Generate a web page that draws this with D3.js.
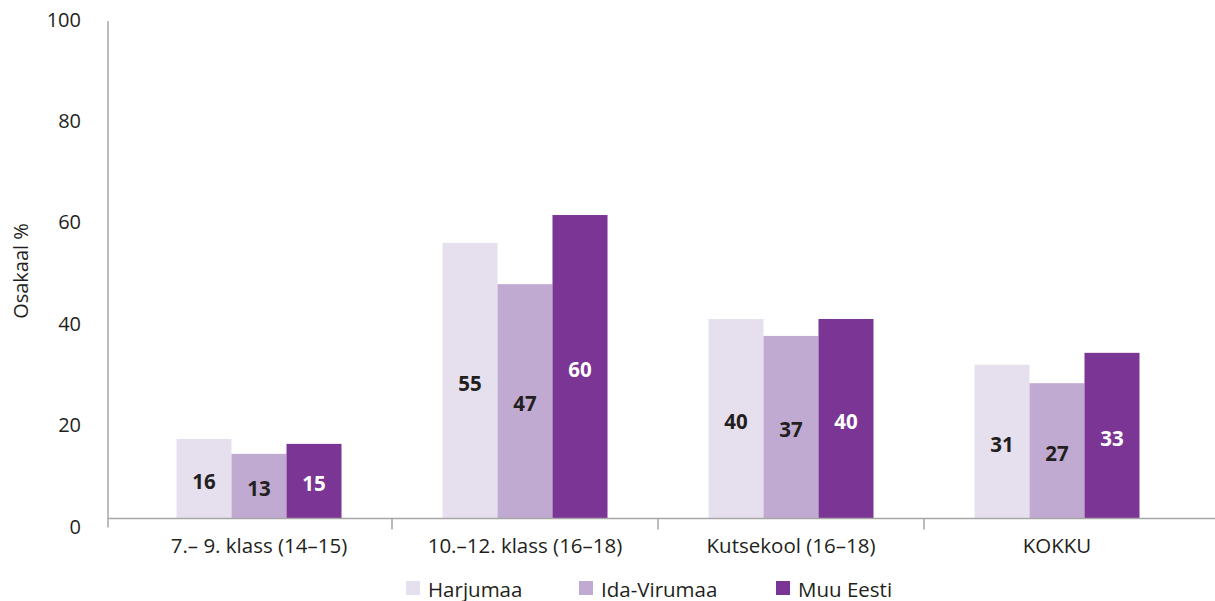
<!DOCTYPE html>
<html>
<head>
<meta charset="utf-8">
<script src="https://cdn.jsdelivr.net/npm/d3@7"></script>
<style>
  html, body { margin: 0; padding: 0; background: #ffffff; }
  svg { display: block; }
  text { font-family: "Open Sans", "Noto Sans", sans-serif; }
</style>
</head>
<body>
<svg id="chart" width="1215" height="601"></svg>
<script>
// ---- data ----
const categories = ["7.\u2013 9. klass (14\u201315)", "10.\u201312. klass (16\u201318)", "Kutsekool (16\u201318)", "KOKKU"];
const seriesNames = ["Harjumaa", "Ida-Virumaa", "Muu Eesti"];
const harjumaa   = [16.0, 55.4, 40.1, 30.9];
const idaVirumaa = [13.0, 47.1, 36.7, 27.2];
const muuEesti   = [15.0, 61.0, 40.1, 33.3];
const harjumaaLabels   = ["16", "55", "40", "31"];
const idaVirumaaLabels = ["13", "47", "37", "27"];
const muuEestiLabels   = ["15", "60", "40", "33"];
const yTicks = [0, 20, 40, 60, 80, 100];
const yTitle = "Osakaal %";

const seriesValues = [harjumaa, idaVirumaa, muuEesti];
const seriesLabels = [harjumaaLabels, idaVirumaaLabels, muuEestiLabels];
const colors = ["#e6dfee", "#c1aad1", "#7b3594"];
const labelColors = ["#231f20", "#231f20", "#ffffff"];

// ---- layout ----
const svg = d3.select("#chart");
const axisX = 108, baseY = 518.5;
const y = d3.scaleLinear().domain([0, 100]).range([baseY, 21]);
const yLab = d3.scaleLinear().domain([0, 100]).range([526, 19]);
const x0 = d3.scaleBand().domain(categories).range([126, 1190]).padding(0);
const groupW = 165;
const x1 = d3.scaleBand().domain(seriesNames).range([0, groupW]).padding(0);
const groupOffset = (x0.bandwidth() - groupW) / 2;

const axisColor = "#a6a6a6";
const textColor = "#231f20";

// bars
const rows = [];
categories.forEach((c, i) => {
  seriesNames.forEach((s, j) => {
    rows.push({cat: c, ser: s, j: j, v: seriesValues[j][i], lab: seriesLabels[j][i]});
  });
});

svg.append("g").selectAll("rect").data(rows).join("rect")
  .attr("x", d => x0(d.cat) + groupOffset + x1(d.ser))
  .attr("y", d => y(d.v))
  .attr("width", x1.bandwidth())
  .attr("height", d => baseY - y(d.v))
  .attr("fill", d => colors[d.j]);

// data labels
svg.append("g").selectAll("text").data(rows).join("text")
  .attr("x", d => x0(d.cat) + groupOffset + x1(d.ser) + x1.bandwidth() / 2)
  .attr("y", d => (y(d.v) + baseY) / 2 + 2)
  .attr("text-anchor", "middle")
  .attr("dominant-baseline", "central")
  .attr("font-size", 20.5)
  .attr("font-weight", 700)
  .attr("fill", d => labelColors[d.j])
  .text(d => d.lab);

// y axis line
svg.append("line")
  .attr("x1", axisX).attr("x2", axisX)
  .attr("y1", y(100)).attr("y2", baseY + 9)
  .attr("stroke", axisColor).attr("stroke-width", 1.5);

// x axis line
svg.append("line")
  .attr("x1", axisX).attr("x2", 1215)
  .attr("y1", baseY).attr("y2", baseY)
  .attr("stroke", axisColor).attr("stroke-width", 1.5);

// category ticks (band boundaries)
const boundaries = categories.slice(1).map(c => x0(c));
svg.append("g").selectAll("line").data(boundaries).join("line")
  .attr("x1", d => d).attr("x2", d => d)
  .attr("y1", baseY).attr("y2", baseY + 11)
  .attr("stroke", axisColor).attr("stroke-width", 1.5);

// y tick labels
svg.append("g").selectAll("text").data(yTicks).join("text")
  .attr("x", 81)
  .attr("y", d => yLab(d))
  .attr("text-anchor", "end")
  .attr("dominant-baseline", "central")
  .attr("font-size", 20)
  .attr("fill", textColor)
  .text(d => d);

// category labels
svg.append("g").selectAll("text").data(categories).join("text")
  .attr("x", d => x0(d) + x0.bandwidth() / 2)
  .attr("y", 545)
  .attr("text-anchor", "middle")
  .attr("dominant-baseline", "central")
  .attr("font-size", 20.5)
  .attr("fill", textColor)
  .text(d => d);

// y title
svg.append("text")
  .attr("transform", "translate(20,271) rotate(-90)")
  .attr("text-anchor", "middle")
  .attr("dominant-baseline", "central")
  .attr("font-size", 20)
  .attr("fill", textColor)
  .text(yTitle);

// legend
const legendX = d3.scaleOrdinal().domain(seriesNames).range([406, 579, 776]);
const lg = svg.append("g").selectAll("g").data(seriesNames).join("g")
  .attr("transform", d => `translate(${legendX(d)},581)`);
lg.append("rect").attr("width", 14).attr("height", 14)
  .attr("fill", (d, i) => colors[i]);
lg.append("text").attr("x", 22).attr("y", 7.5)
  .attr("dominant-baseline", "central")
  .attr("font-size", 20.5)
  .attr("fill", textColor)
  .text(d => d);
</script>
</body>
</html>
